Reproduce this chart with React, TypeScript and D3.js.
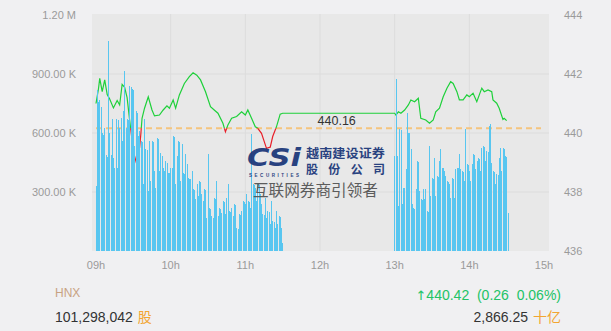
import React from "react";
import * as d3 from "d3";

const W = 611;
const H = 331;

// Axis ticks
const volumeTicks = [300, 600, 900, 1200];
const volumeTickLabels = ["300.00 K", "600.00 K", "900.00 K", "1.20 M"];
const priceTicks = [436, 438, 440, 442, 444];
const hourTicks = [9, 10, 11, 12, 13, 14, 15];

// Session summary
const indexName = "HNX";
const refPrice = 440.16;
const lastPrice = 440.42;
const priceChange = 0.26;
const priceChangePct = 0.06;
const totalShares = "101,298,042";
const totalValue = "2,866.25";

// Per-minute traded volume (thousands of shares)
const morningStart = [9, 0];
const morningVolumes = [
  330, 820, 760, 770, 730, 600, 590, 625, 490, 480,
  1070, 600, 490, 670, 475, 420, 670, 420, 665, 625,
  675, 560, 710, 915, 625, 670, 665, 840, 835, 825,
  820, 535, 710, 700, 585, 610, 560, 555, 340, 670,
  520, 515, 305, 560, 355, 560, 555, 405, 320, 575,
  570, 405, 500, 483, 420, 405, 458, 450, 398, 395,
  424, 420, 585, 580, 340, 483, 560, 555, 355, 545,
  398, 390, 493, 442, 371, 365, 366, 407, 315, 310,
  264, 340, 280, 356, 350, 290, 254, 315, 310, 170,
  493, 220, 215, 178, 170, 271, 265, 356, 178, 220,
  215, 195, 254, 250, 188, 271, 340, 203, 200, 220,
  178, 239, 235, 118, 112, 188, 185, 203, 254, 250,
  239, 290, 254, 250, 220, 595, 340, 335, 322, 254,
  340, 335, 290, 239, 188, 185, 271, 170, 203, 200,
  137, 254, 153, 150, 118, 203, 137, 178, 175, 118,
  42,
];
const afternoonStart = [13, 0];
const afternoonVolumes = [
  483, 873, 483, 229, 620, 615, 239, 322, 318, 417,
  700, 602, 598, 519, 239, 220, 215, 315, 458, 452,
  305, 264, 260, 315, 264, 315, 203, 200, 534, 280,
  373, 368, 474, 280, 381, 376, 458, 519, 424, 420,
  407, 381, 356, 350, 340, 271, 373, 368, 271, 417,
  424, 420, 493, 417, 407, 402, 356, 620, 442, 438,
  407, 356, 442, 493, 488, 417, 458, 474, 470, 407,
  525, 534, 530, 458, 508, 504, 635, 646, 449, 407,
  402, 340, 392, 388, 474, 525, 407, 525, 520, 483,
  478, 195,
];

// Index level through the day
const priceTimes = [
  "09:00", "09:02", "09:03", "09:05", "09:07", "09:09", "09:11", "09:14", "09:17", "09:19",
  "09:21", "09:23", "09:25", "09:27", "09:28", "09:29", "09:31", "09:33", "09:35", "09:36",
  "09:37", "09:39", "09:42", "09:45", "09:47", "09:51", "09:54", "09:57", "09:59", "10:02",
  "10:04", "10:07", "10:11", "10:15", "10:18", "10:21", "10:24", "10:28", "10:32", "10:35",
  "10:38", "10:42", "10:44", "10:46", "10:49", "10:53", "10:57", "11:00", "11:02", "11:05",
  "11:08", "11:10", "11:13", "11:17", "11:20", "11:22", "11:25", "11:28", "11:30",
  "13:00", "13:01", "13:03", "13:05", "13:08", "13:11", "13:13", "13:16", "13:19", "13:21",
  "13:25", "13:28", "13:31", "13:33", "13:36", "13:39", "13:42", "13:45", "13:47", "13:50",
  "13:52", "13:55", "13:58", "14:00", "14:03", "14:06", "14:10", "14:12", "14:15", "14:18",
  "14:19", "14:22", "14:24", "14:27", "14:28", "14:30",
];
const prices = [
  441.0, 441.5, 441.85, 441.4, 441.8, 441.3, 441.15, 440.85, 441.1, 440.95,
  441.65, 441.55, 441.2, 440.45, 440.1, 439.75, 438.98, 439.3, 439.5, 439.95,
  440.5, 440.84, 441.23, 440.78, 440.58, 440.61, 440.78, 440.92, 440.84, 441.12,
  440.84, 441.29, 441.68, 441.91, 442.04, 441.96, 441.8, 441.4, 440.89, 440.78,
  440.67, 440.33, 440.04, 440.27, 440.5, 440.56, 440.72, 440.61, 440.78, 440.5,
  440.21, 440.16, 439.99, 439.48, 439.52, 439.88, 440.21, 440.64, 440.67,
  440.67, 440.61, 440.72, 440.67, 440.78, 440.95, 441.12, 441.06, 441.18, 440.5,
  440.44, 440.33, 440.44, 440.72, 440.84, 441.23, 441.52, 441.74, 441.68, 441.4,
  441.12, 441.12, 441.29, 441.23, 441.35, 441.06, 441.52, 441.4, 441.46, 441.4,
  441.12, 441.01, 440.84, 440.46, 440.5, 440.42,
];

const at = (h: number, m: number) => new Date(2024, 0, 2, h, m);
const parseHM = (s: string) => {
  const [h, m] = s.split(":").map(Number);
  return at(h, m);
};

const PLOT = { left: 92, right: 549, top: 14, bottom: 251 };

const x = d3.scaleTime().domain([at(9, 0), at(15, 0)]).range([96, 544]);
const yVol = d3.scaleLinear().domain([0, 1200]).range([251, 15]);
const yPrice = d3.scaleLinear().domain([436, 444]).range([251, 15]);

const AXIS_FONT = "'Liberation Sans', Arial, sans-serif";
const CJK_FONT = "'Noto Sans CJK SC', sans-serif";

export default function App() {
  const bars: { t: Date; v: number }[] = [];
  morningVolumes.forEach((v, i) => bars.push({ t: at(morningStart[0], morningStart[1] + i), v }));
  afternoonVolumes.forEach((v, i) => bars.push({ t: at(afternoonStart[0], afternoonStart[1] + i), v }));

  const pricePoints = priceTimes.map((s, i) => ({ t: parseHM(s), p: prices[i] }));
  const line = d3
    .line<{ t: Date; p: number }>()
    .x((d) => x(d.t))
    .y((d) => yPrice(d.p));
  const pathD = line(pricePoints) || "";
  const yRef = yPrice(refPrice);
  const lunchMid = at(12, 15);

  return (
    <div style={{ position: "absolute", left: 0, top: 0, width: W, height: H, background: "#f0f0f2" }}>
      <svg width={W} height={H} style={{ display: "block" }}>
        <defs>
          <clipPath id="aboveRef">
            <rect x={0} y={0} width={W} height={yRef} />
          </clipPath>
          <clipPath id="belowRef">
            <rect x={0} y={yRef} width={W} height={H - yRef} />
          </clipPath>
        </defs>

        {/* plot background */}
        <rect
          x={PLOT.left}
          y={PLOT.top}
          width={PLOT.right - PLOT.left}
          height={PLOT.bottom - PLOT.top}
          fill="#e8e8e8"
        />

        {/* grid */}
        {priceTicks.slice(1, -1).map((p) => (
          <line key={"hg" + p} x1={PLOT.left} x2={PLOT.right} y1={yPrice(p)} y2={yPrice(p)} stroke="#dcdcdc" strokeWidth={1} />
        ))}
        {hourTicks.slice(1, -1).map((h) => (
          <line key={"vg" + h} x1={x(at(h, 0))} x2={x(at(h, 0))} y1={PLOT.top} y2={PLOT.bottom} stroke="#dcdcdc" strokeWidth={1} />
        ))}

        {/* reference level */}
        <line
          x1={PLOT.left + 4}
          x2={PLOT.right - 8}
          y1={yRef}
          y2={yRef}
          stroke="#f4c47e"
          strokeWidth={2}
          strokeDasharray="6,4"
        />
        <text
          x={x(lunchMid) - 2}
          y={yRef - 3}
          textAnchor="middle"
          fontFamily={AXIS_FONT}
          fontSize={12.5}
          fill="#333"
        >
          {refPrice.toFixed(2)}
        </text>

        {/* index line, green above reference, red below */}
        <path d={pathD} fill="none" stroke="#1ed03a" strokeWidth={1.2} clipPath="url(#aboveRef)" />
        <path d={pathD} fill="none" stroke="#e8202a" strokeWidth={1.2} clipPath="url(#belowRef)" />

        {/* volume bars */}
        <g shapeRendering="crispEdges">
          {bars.map((b, i) => (
            <rect
              key={i}
              x={x(b.t) - 0.3}
              y={yVol(b.v)}
              width={1}
              height={yVol(0) - yVol(b.v)}
              fill="#58c6f0"
            />
          ))}
        </g>

        {/* left volume axis */}
        {volumeTicks.map((v, i) => (
          <text
            key={"lv" + v}
            x={76}
            y={yVol(v) + 4}
            textAnchor="end"
            fontFamily={AXIS_FONT}
            fontSize={11}
            fill="#9a9a9a"
          >
            {volumeTickLabels[i]}
          </text>
        ))}
        {/* right price axis */}
        {priceTicks.map((p) => (
          <text
            key={"rp" + p}
            x={564}
            y={yPrice(p) + 4}
            textAnchor="start"
            fontFamily={AXIS_FONT}
            fontSize={11}
            fill="#9a9a9a"
          >
            {p}
          </text>
        ))}
        {/* time axis */}
        {hourTicks.map((h) => (
          <text
            key={"tx" + h}
            x={x(at(h, 0))}
            y={269}
            textAnchor="middle"
            fontFamily={AXIS_FONT}
            fontSize={11}
            fill="#9a9a9a"
          >
            {String(h).padStart(2, "0") + "h"}
          </text>
        ))}

        {/* brand watermark */}
        <g opacity={0.95}>
          <text
            x={247}
            y={166}
            fontFamily="'DejaVu Sans', sans-serif"
            fontWeight="bold"
            fontStyle="italic"
            fontSize={25}
            fill="#1e3a7b"
            textLength={54}
            lengthAdjust="spacingAndGlyphs"
          >
            CSi
          </text>
          <text
            x={249}
            y={177}
            fontFamily={AXIS_FONT}
            fontWeight="bold"
            fontSize={4.5}
            fill="#1e3a7b"
            textLength={50}
            lengthAdjust="spacing"
          >
            SECURITIES
          </text>
          <text
            x={306}
            y={158}
            fontFamily={CJK_FONT}
            fontWeight="bold"
            fontSize={12}
            fill="#1e3a7b"
            textLength={79}
            lengthAdjust="spacingAndGlyphs"
          >
            越南建设证券
          </text>
          <text
            x={306}
            y={174}
            fontFamily={CJK_FONT}
            fontWeight="bold"
            fontSize={12}
            fill="#1e3a7b"
            textLength={79}
            lengthAdjust="spacing"
          >
            股份公司
          </text>
          <text
            x={253}
            y={196}
            fontFamily={CJK_FONT}
            fontSize={15.5}
            fill="#555"
            textLength={125}
            lengthAdjust="spacingAndGlyphs"
          >
            互联网券商引领者
          </text>
        </g>

        {/* summary */}
        <text x={55} y={297} fontFamily={AXIS_FONT} fontSize={12} fill="#c8a282">
          {indexName}
        </text>
        <text x={55} y={322} fontFamily={AXIS_FONT} fontSize={14} fill="#333">
          {totalShares}
          <tspan dx={5} fontFamily={CJK_FONT} fill="#f2a531">
            股
          </tspan>
        </text>
        <text
          x={561}
          y={300}
          textAnchor="end"
          fontFamily={AXIS_FONT}
          fontSize={14}
          fill="#22c366"
          style={{ whiteSpace: "pre" }}
        >
          <tspan fontFamily="'DejaVu Sans', sans-serif" fontSize={13}>↑</tspan>
          {lastPrice.toFixed(2) + "  (" + priceChange.toFixed(2) + "  " + priceChangePct.toFixed(2) + "%)"}
        </text>
        <text x={561} y={322} textAnchor="end" fontFamily={AXIS_FONT} fontSize={14} fill="#333">
          {totalValue}
          <tspan dx={5} fontFamily={CJK_FONT} fill="#f2a531">
            十亿
          </tspan>
        </text>
      </svg>
    </div>
  );
}
